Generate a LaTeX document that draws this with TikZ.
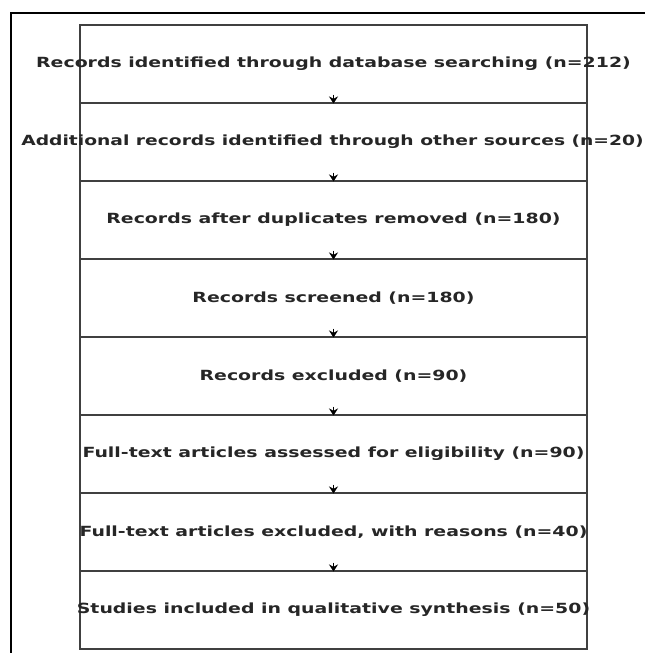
\documentclass[tikz,border=0pt]{standalone}
\usepackage{fontspec}
\setmainfont{DejaVu Sans}
\usetikzlibrary{arrows.meta}
\newcommand{\widetext}[2][1.35]{\scalebox{#1}[1]{#2}}
\begin{document}
\begin{tikzpicture}[x=1pt,y=-1pt,
  stage/.style={draw=black!75, line width=1.6pt, minimum width=507pt, minimum height=78pt, inner sep=0pt, anchor=north},
  txt/.style={inner sep=0pt, font=\fontsize{14}{16}\selectfont\bfseries, text=black!85},
  link/.style={-{Stealth[length=7pt,width=9pt]}, line width=1.6pt, black}]
\useasboundingbox (0,0) rectangle (645,653);
\fill[white] (0,0) rectangle (645,653);
\draw[black, line width=1.2pt] (11,653) -- (11,13) -- (645,13);
\foreach \i/\y in {1/24,2/102,3/180,4/258,5/336,6/414,7/492,8/570}
  \node[stage] (s\i) at (333.5,\y) {};
\node[txt] (t1) at (s1) {\widetext{Records identified through database searching (n=212)}};
\node[txt] (t2) at ([xshift=-1pt]s2.center) {\widetext[1.335]{Additional records identified through other sources (n=20)}};
\node[txt] (t3) at (s3) {\widetext{Records after duplicates removed (n=180)}};
\node[txt] (t4) at (s4) {\widetext{Records screened (n=180)}};
\node[txt] (t5) at (s5) {\widetext{Records excluded (n=90)}};
\node[txt] (t6) at (s6) {\widetext{Full-text articles assessed for eligibility (n=90)}};
\node[txt] (t7) at (s7) {\widetext{Full-text articles excluded, with reasons (n=40)}};
\node[txt] (t8) at (s8) {\widetext{Studies included in qualitative synthesis (n=50)}};
\foreach \a/\b in {s1/s2,s2/s3,s3/s4,s4/s5,s5/s6,s6/s7,s7/s8}
  \draw[link] ([yshift=9pt]\a.south) -- ([yshift=-1.5pt]\b.north);
\end{tikzpicture}
\end{document}
